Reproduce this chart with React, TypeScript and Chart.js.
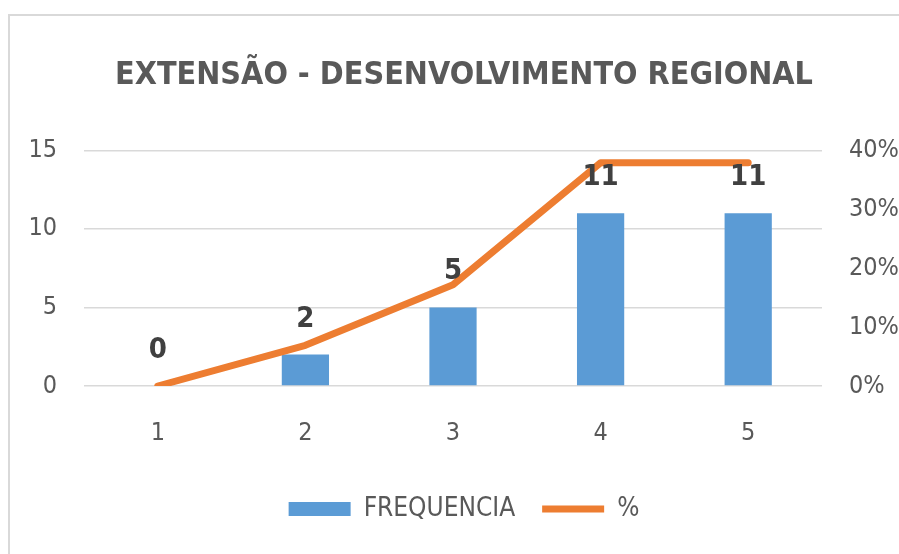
import React, { useEffect, useRef } from "react";
import { Chart, registerables } from "chart.js";

Chart.register(...registerables);

const categories = ["1", "2", "3", "4", "5"];
const frequencia = [0, 2, 5, 11, 11];
const percent = [0, 0.069, 0.172, 0.379, 0.379];
const leftTicks = [0, 5, 10, 15];
const rightTicks = [0, 0.1, 0.2, 0.3, 0.4];
const titleText = "EXTENSÃO - DESENVOLVIMENTO REGIONAL";

const FONT = "'Liberation Sans Narrow', 'DejaVu Sans Condensed', 'Open Sans', sans-serif";
const BLUE = "#5B9BD5";
const ORANGE = "#ED7D31";
const GRAY = "#595959";

const dataLabels = {
  id: "dataLabels",
  afterDatasetsDraw(chart: any) {
    const meta = chart.getDatasetMeta(0);
    const ctx = chart.ctx;
    ctx.save();
    ctx.font = `bold 29px ${FONT}`;
    ctx.fillStyle = "#404040";
    ctx.textAlign = "center";
    ctx.textBaseline = "alphabetic";
    meta.data.forEach((bar: any, i: number) => {
      ctx.fillText(String(frequencia[i]), bar.x, bar.y - 28);
    });
    ctx.restore();
  },
};

export default function App() {
  const ref = useRef<HTMLCanvasElement>(null);
  useEffect(() => {
    document.body.style.margin = "0";
    const chart = new Chart(ref.current!, {
      type: "bar",
      data: {
        labels: categories,
        datasets: [
          {
            type: "bar",
            label: "FREQUENCIA",
            data: frequencia,
            backgroundColor: BLUE,
            borderWidth: 0,
            yAxisID: "y",
            barPercentage: 0.32,
            categoryPercentage: 1,
            order: 1,
            pointStyle: "rect",
          } as any,
          {
            type: "line",
            label: "%",
            data: percent,
            borderColor: ORANGE,
            backgroundColor: ORANGE,
            borderWidth: 7,
            borderCapStyle: "round",
            borderJoinStyle: "round",
            pointRadius: 0,
            tension: 0,
            yAxisID: "y1",
            order: 0,
            pointStyle: "line",
          } as any,
        ],
      },
      options: {
        responsive: false,
        animation: false,
        layout: { padding: { left: 29, right: 0, top: 0, bottom: 22 } },
        plugins: {
          tooltip: { enabled: false },
          title: {
            display: true,
            text: titleText,
            color: GRAY,
            font: { family: FONT, size: 32, weight: "bold", lineHeight: 1.2 },
            padding: { top: 56, bottom: 56 },
          },
          legend: {
            position: "bottom",
            labels: {
              usePointStyle: true,
              pointStyleWidth: 62,
              boxHeight: 14,
              padding: 27,
              color: GRAY,
              font: { family: FONT, size: 26 },
              sort: (a: any, b: any) => a.datasetIndex - b.datasetIndex,
            },
          },
        },
        scales: {
          x: {
            grid: { display: false },
            border: { display: false },
            ticks: { color: GRAY, font: { family: FONT, size: 25 }, padding: 24 },
            afterFit: (s: any) => {
              s.height = 83;
            },
          },
          y: {
            position: "left",
            min: 0,
            max: 15,
            afterBuildTicks: (s: any) => {
              s.ticks = leftTicks.map((v) => ({ value: v }));
            },
            grid: { color: "#d9d9d9", lineWidth: 1.5, drawTicks: false },
            border: { display: false },
            ticks: { color: GRAY, font: { family: FONT, size: 25 }, padding: 27 },
            afterFit: (s: any) => {
              s.width = 55;
            },
          },
          y1: {
            position: "right",
            min: 0,
            max: 0.4,
            afterBuildTicks: (s: any) => {
              s.ticks = rightTicks.map((v) => ({ value: v }));
            },
            grid: { display: false, drawTicks: false },
            border: { display: false },
            ticks: {
              color: GRAY,
              font: { family: FONT, size: 25 },
              padding: 27,
              callback: (v: any) => `${Math.round(Number(v) * 100)}%`,
            },
            afterFit: (s: any) => {
              s.width = 77;
            },
          },
        },
      } as any,
      plugins: [dataLabels],
    });
    return () => chart.destroy();
  }, []);
  return (
    <div style={{ position: "relative", width: 899, height: 554, background: "#fff" }}>
      <div
        style={{
          position: "absolute",
          left: 8,
          top: 14,
          right: 0,
          bottom: 0,
          borderTop: "2px solid #d9d9d9",
          borderLeft: "2px solid #d9d9d9",
          pointerEvents: "none",
        }}
      />
      <canvas ref={ref} width={899} height={554} style={{ position: "absolute", left: 0, top: 0 }} />
    </div>
  );
}
